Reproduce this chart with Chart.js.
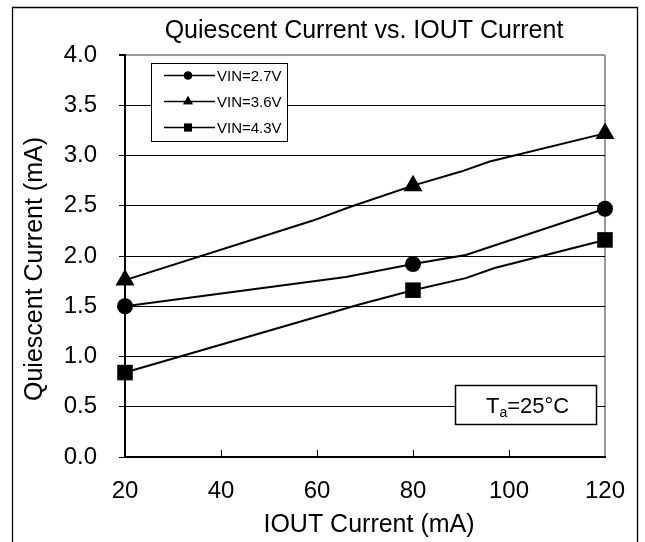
<!DOCTYPE html>
<html>
<head>
<meta charset="utf-8">
<script src="https://cdn.jsdelivr.net/npm/chart.js@4/dist/chart.umd.min.js"></script>
<style>
  html, body { margin: 0; padding: 0; background: #fff; }
</style>
</head>
<body>
<canvas id="myChart" width="645" height="542"></canvas>
<script>
const FONT = '"Liberation Sans", Arial, sans-serif';

const chartTitle = "Quiescent Current vs. IOUT Current";
const xTitle = "IOUT Current (mA)";
const yTitle = "Quiescent Current (mA)";
const seriesLabels = ["VIN=2.7V", "VIN=3.6V", "VIN=4.3V"];
const seriesStyles = ["circle", "triangle", "rect"];
const markerX = [20, 80, 120];

// points (IOUT mA -> quiescent mA)
const x27 = [20, 66, 80, 91, 120];
const y27 = [1.50, 1.79, 1.92, 2.01, 2.47];
const x36 = [20, 59, 67, 80, 90, 96, 120];
const y36 = [1.76, 2.35, 2.49, 2.70, 2.84, 2.94, 3.22];
const x43 = [20, 69, 80, 91, 97, 120];
const y43 = [0.84, 1.52, 1.66, 1.78, 1.88, 2.16];

const xTicks = [20, 40, 60, 80, 100, 120];
const yTicks = [0, 0.5, 1, 1.5, 2, 2.5, 3, 3.5, 4];

const seriesX = [x27, x36, x43];
const seriesY = [y27, y36, y43];
const markerSize = { circle: 8, triangle: 11, rect: 11 };

const datasets = seriesLabels.map((label, i) => ({
  label: label,
  data: seriesX[i].map((x, j) => ({ x: x, y: seriesY[i][j] })),
  borderColor: "#000",
  backgroundColor: "#000",
  borderWidth: 2,
  pointStyle: seriesStyles[i],
  pointRadius: seriesX[i].map(x => markerX.includes(x) ? markerSize[seriesStyles[i]] : 0),
  pointBorderWidth: 0,
  tension: 0,
  clip: false,
}));

const decor = {
  id: "decor",
  beforeDraw(chart) {
    const c = chart.ctx;
    c.save();
    c.strokeStyle = "#000";
    c.lineWidth = 1.3;
    c.beginPath();
    c.moveTo(12.5, 545);
    c.lineTo(12.5, 7.5);
    c.lineTo(637.5, 7.5);
    c.lineTo(637.5, 545);
    c.stroke();

    c.fillStyle = "#000";
    c.font = "25px " + FONT;
    c.textAlign = "center";
    c.textBaseline = "alphabetic";
    c.fillText(chartTitle, 364, 38);
    c.fillText(xTitle, 369, 532);

    c.save();
    c.translate(42, 269);
    c.rotate(-Math.PI / 2);
    c.fillText(yTitle, 0, 0);
    c.restore();
    c.restore();
  },
  afterDatasetsDraw(chart) {
    const c = chart.ctx;
    const xs = chart.scales.x;
    const area = chart.chartArea;
    c.save();
    // inward x ticks
    c.strokeStyle = "#000";
    c.lineWidth = 1;
    xTicks.slice(1, -1).forEach(v => {
      const px = Math.round(xs.getPixelForValue(v)) + 0.5;
      c.beginPath();
      c.moveTo(px, area.bottom);
      c.lineTo(px, area.bottom - 7);
      c.stroke();
    });

    // legend box
    c.fillStyle = "#fff";
    c.fillRect(151.5, 63.5, 136, 78);
    c.strokeStyle = "#000";
    c.lineWidth = 1;
    c.strokeRect(151.5, 63.5, 136, 78);
    c.font = "15px " + FONT;
    c.textAlign = "left";
    c.textBaseline = "middle";
    const legendSize = { circle: 4, triangle: 5.5, rect: 5.5 };
    seriesLabels.forEach((label, i) => {
      const y = 75.5 + i * 26;
      c.strokeStyle = "#000";
      c.lineWidth = 1.5;
      c.beginPath();
      c.moveTo(164, y);
      c.lineTo(215, y);
      c.stroke();
      c.fillStyle = "#000";
      Chart.helpers.drawPoint(c, { pointStyle: seriesStyles[i], radius: legendSize[seriesStyles[i]], borderWidth: 0 }, 188, y);
      c.fill();
      c.fillText(label, 217, y + 1);
    });

    // temperature box
    c.fillStyle = "#fff";
    c.fillRect(455.5, 385.5, 141, 39);
    c.strokeStyle = "#000";
    c.strokeRect(455.5, 385.5, 141, 39);
    c.fillStyle = "#000";
    c.textBaseline = "alphabetic";
    c.font = "22px " + FONT;
    let tx = 486;
    c.fillText("T", tx, 413);
    tx += c.measureText("T").width;
    c.font = "14px " + FONT;
    c.fillText("a", tx, 417);
    tx += c.measureText("a").width;
    c.font = "22px " + FONT;
    c.fillText("=25\u00B0C", tx, 413);
    c.restore();
  },
};

new Chart(document.getElementById("myChart"), {
  type: "line",
  data: { datasets: datasets },
  plugins: [decor],
  options: {
    responsive: false,
    animation: false,
    layout: { padding: { left: 0, top: 55, right: 32, bottom: 0 } },
    plugins: {
      legend: { display: false },
      tooltip: { enabled: false },
    },
    scales: {
      x: {
        type: "linear",
        min: 20,
        max: 120,
        afterBuildTicks: s => { s.ticks = xTicks.map(v => ({ value: v })); },
        afterFit: s => { s.height = 85; },
        ticks: {
          color: "#000",
          font: { family: FONT, size: 24 },
          padding: 20,
          maxRotation: 0,
        },
        grid: {
          drawTicks: false,
          lineWidth: 2,
          color: ctx => ctx.tick && ctx.tick.value === 120 ? "#999" : "rgba(0,0,0,0)",
        },
        border: { color: "#000", width: 2 },
      },
      y: {
        min: 0,
        max: 4,
        afterBuildTicks: s => { s.ticks = yTicks.map(v => ({ value: v })); },
        afterFit: s => { s.width = 125; },
        ticks: {
          color: "#000",
          font: { family: FONT, size: 24 },
          padding: 22,
          callback: v => v.toFixed(1),
        },
        grid: {
          drawTicks: true,
          tickLength: 6,
          tickColor: "#000",
          lineWidth: ctx => ctx.tick && ctx.tick.value === 4 ? 2 : 1,
          color: ctx => ctx.tick && ctx.tick.value === 4 ? "#999" : "#000",
        },
        border: { color: "#000", width: 2 },
      },
    },
  },
});
</script>
</body>
</html>
